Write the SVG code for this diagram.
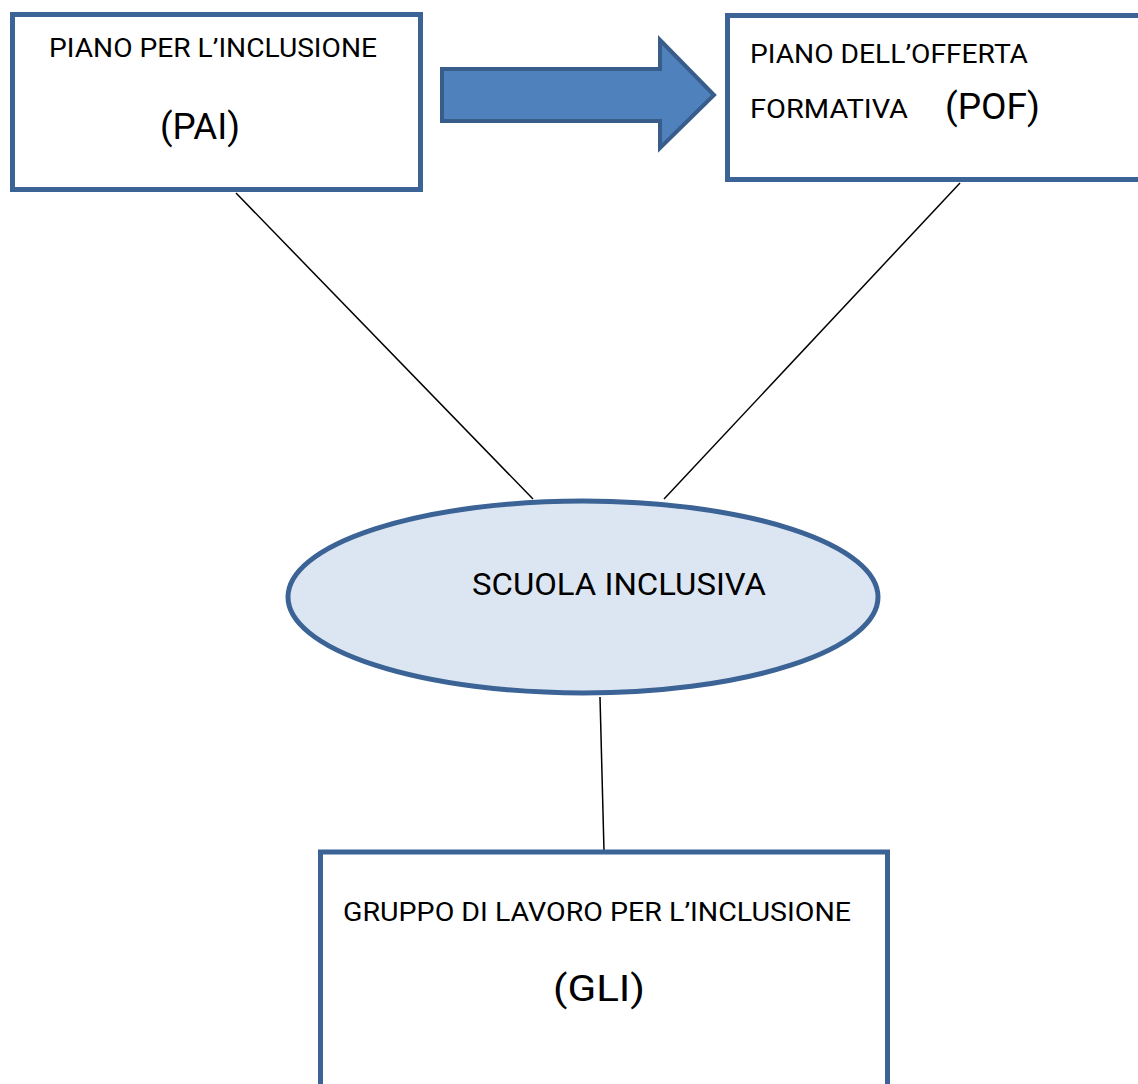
<svg xmlns="http://www.w3.org/2000/svg" width="1138" height="1084" viewBox="0 0 1138 1084">
<style>
.box{fill:#fff;stroke:#3B6396;stroke-width:5}
.t{font-family:Roboto,"Open Sans","Liberation Sans",sans-serif;fill:#000}
.s{font-size:26px}
.b{font-size:37px}
.conn{stroke:#000;stroke-width:1.5;fill:none}
</style>
<rect width="1138" height="1084" fill="#fff"/>
<g id="connectors">
<line class="conn" x1="236" y1="193" x2="533" y2="499"/>
<line class="conn" x1="960" y1="183" x2="664" y2="499"/>
<line class="conn" x1="600" y1="697" x2="604" y2="851"/>
</g>
<g id="arrow">
<polygon points="442,69 660,69 660,40 714,95 660,148 660,121 442,121" fill="#4F81BD" stroke="#385D8A" stroke-width="4" stroke-linejoin="miter"/>
</g>
<g id="pai">
<rect class="box" x="12.5" y="14.5" width="408" height="175"/>
<text class="t s" x="49" y="57" textLength="328" lengthAdjust="spacingAndGlyphs">PIANO PER L’INCLUSIONE</text>
<text class="t b" x="160" y="139" textLength="80" lengthAdjust="spacingAndGlyphs">(PAI)</text>
</g>
<g id="pof">
<rect class="box" x="727.5" y="15.5" width="420" height="164"/>
<text class="t s" x="750" y="63" textLength="278" lengthAdjust="spacingAndGlyphs">PIANO DELL’OFFERTA</text>
<text class="t s" x="750" y="118" textLength="158" lengthAdjust="spacingAndGlyphs">FORMATIVA</text>
<text class="t b" x="945" y="119" textLength="95" lengthAdjust="spacingAndGlyphs">(POF)</text>
</g>
<g id="scuola">
<ellipse cx="583" cy="597" rx="295" ry="96" fill="#DCE6F2" stroke="#3B6396" stroke-width="5"/>
<text class="t" x="472" y="595" font-size="32" textLength="294" lengthAdjust="spacingAndGlyphs">SCUOLA INCLUSIVA</text>
</g>
<g id="gli">
<rect class="box" x="320.5" y="852" width="567" height="260"/>
<text class="t s" x="343" y="921" textLength="508" lengthAdjust="spacingAndGlyphs">GRUPPO DI LAVORO PER L’INCLUSIONE</text>
<text class="t b" x="553" y="1001" textLength="92" lengthAdjust="spacingAndGlyphs">(GLI)</text>
</g>
</svg>
